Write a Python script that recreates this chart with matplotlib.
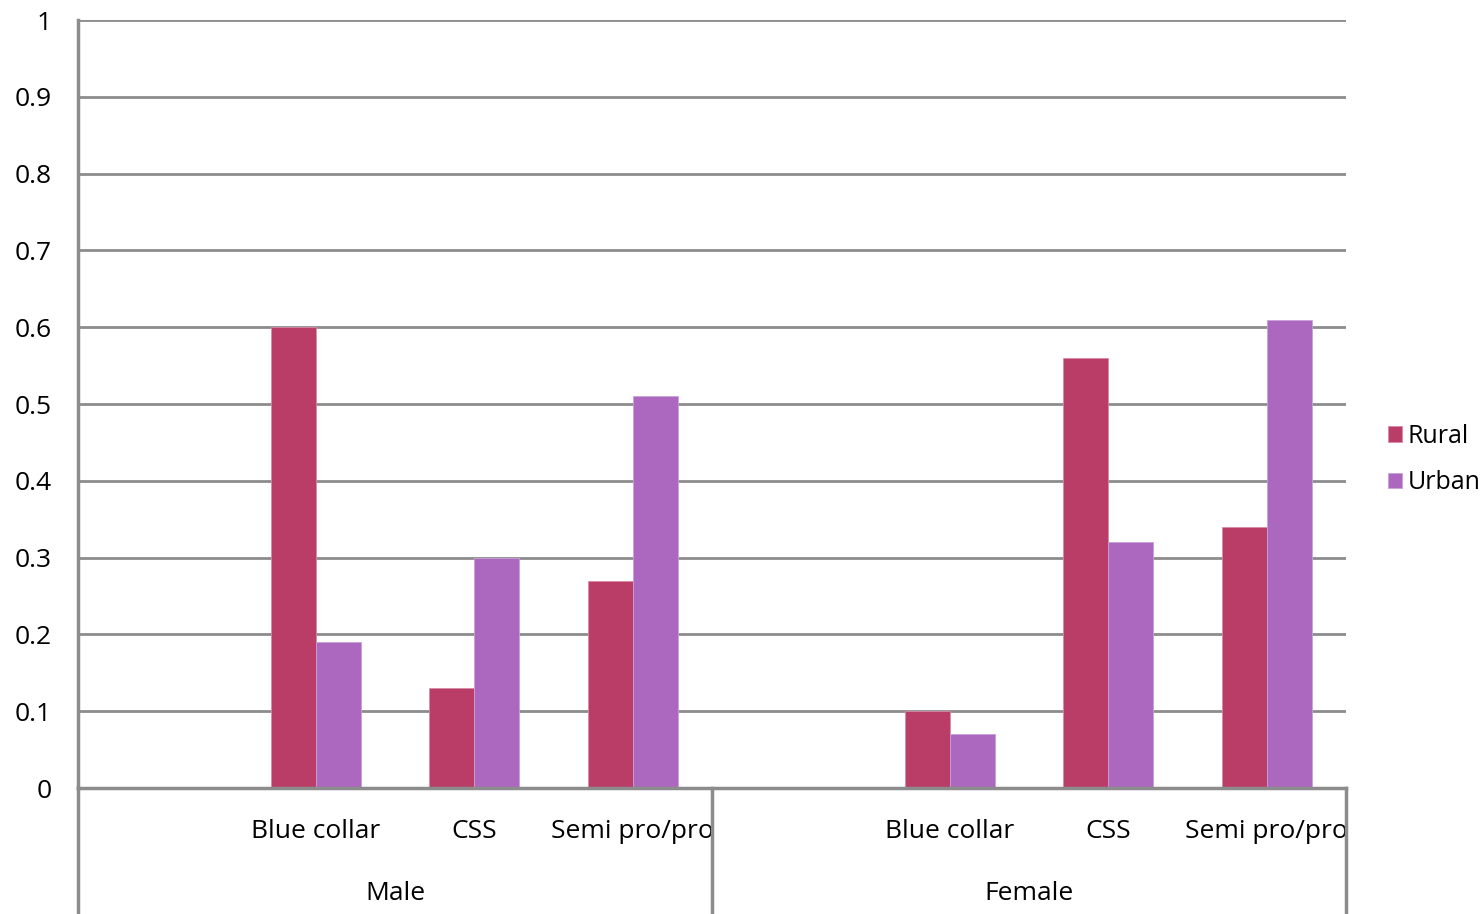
import matplotlib.pyplot as plt
from matplotlib.transforms import blended_transform_factory

plt.rcParams["font.family"] = ["Open Sans", "DejaVu Sans"]

groups = ["Male", "Female"]
occupations = ["Blue collar", "CSS", "Semi pro/pro"]
rural = [0.60, 0.13, 0.27, 0.10, 0.56, 0.34]
urban = [0.19, 0.30, 0.51, 0.07, 0.32, 0.61]
y_ticks = [0, 0.1, 0.2, 0.3, 0.4, 0.5, 0.6, 0.7, 0.8, 0.9, 1]
y_tick_labels = ["0", "0.1", "0.2", "0.3", "0.4", "0.5", "0.6", "0.7", "0.8", "0.9", "1"]

RURAL_COLOR = "#B93D66"
URBAN_COLOR = "#AB68BE"
LINE_COLOR = "#8C8C8C"
FS = 19

W, H = 1484, 914
fig = plt.figure(figsize=(W / 100, H / 100), dpi=100)
ax = fig.add_axes([78 / W, (H - 788) / H, (1346 - 78) / W, (788 - 20) / H])

# each group gets one empty slot followed by the three occupations
slots_per_group = len(occupations) + 1
positions = []
labels = []
for g in range(len(groups)):
    for i, occ in enumerate(occupations):
        positions.append(g * slots_per_group + i + 1)
        labels.append(occ)

bw = 0.284
ax.bar([p - bw / 2 for p in positions], rural, width=bw, color=RURAL_COLOR,
       edgecolor="#D98AA6", linewidth=0.6, label="Rural", zorder=3)
ax.bar([p + bw / 2 for p in positions], urban, width=bw, color=URBAN_COLOR,
       edgecolor="#C9A0D8", linewidth=0.6, label="Urban", zorder=3)

n_slots = slots_per_group * len(groups)
ax.set_xlim(-0.5, n_slots - 0.5)
ax.set_ylim(0, 1)
ax.set_yticks(y_ticks)
ax.set_yticklabels(y_tick_labels, fontsize=FS)
ax.tick_params(axis="y", length=0, pad=19)
ax.set_xticks(positions)
ax.set_xticklabels(labels, fontsize=FS)
ax.tick_params(axis="x", length=0, pad=22)

ax.grid(axis="y", color=LINE_COLOR, linewidth=2, zorder=0)
for side in ["top", "right"]:
    ax.spines[side].set_visible(False)
for side in ["left", "bottom"]:
    ax.spines[side].set_color(LINE_COLOR)
    ax.spines[side].set_linewidth(2.5)
    ax.spines[side].set_zorder(4)

# group separators below the axis
trans = blended_transform_factory(ax.transData, ax.transAxes)
drop = -(914 - 788) / (788 - 20)
for g in range(len(groups) + 1):
    x = g * slots_per_group - 0.5
    ax.plot([x, x], [0, drop], transform=trans, color=LINE_COLOR,
            linewidth=2.5, clip_on=False, zorder=4)

for g, name in enumerate(groups):
    center = g * slots_per_group + (slots_per_group - 1) / 2
    ax.text(center, -(894 - 788) / (788 - 20), name, transform=trans,
            ha="center", va="center", fontsize=FS)

leg = ax.legend(loc="center left", bbox_to_anchor=(1.033, 0.4277),
                frameon=False, fontsize=18, handlelength=0.58, handleheight=0.58,
                handletextpad=0.2, labelspacing=0.85, borderaxespad=0,
                borderpad=0)

plt.savefig("out.png", dpi=100)
